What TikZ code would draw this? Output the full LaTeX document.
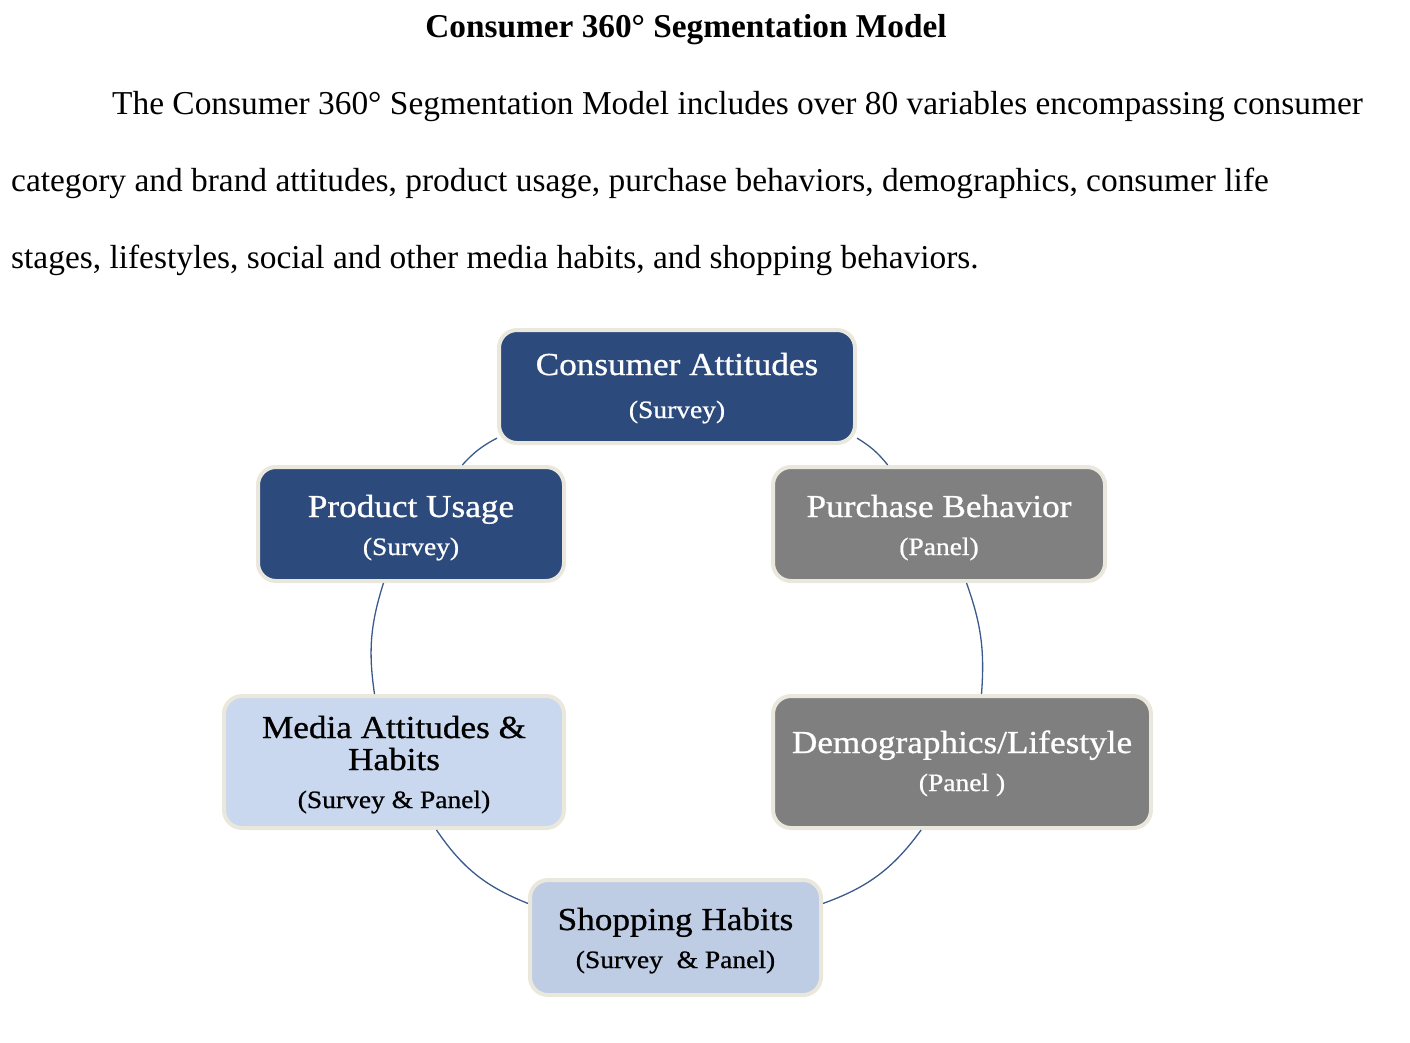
\documentclass[tikz,border=0pt]{standalone}
\usepackage{fontspec}
\setmainfont{Liberation Serif}
\newfontfamily\boxfont[FakeStretch=1.1,FakeBold=0.8]{Liberation Serif}
\definecolor{navy}{HTML}{2C4A7C}
\definecolor{greyA}{HTML}{808080}
\definecolor{greyB}{HTML}{7F7F7F}
\definecolor{lightA}{HTML}{C9D8EE}
\definecolor{lightB}{HTML}{BECCE4}
\definecolor{boxline}{HTML}{EAE7DC}
\definecolor{linkc}{HTML}{3B5A8C}
\begin{document}
\begin{tikzpicture}[x=1pt,y=1pt,
  box/.style={draw=boxline, line width=4pt, rounded corners=18pt, inner sep=0pt},
  maintxt/.style={font=\boxfont\fontsize{32}{38}\selectfont, anchor=base, inner sep=0pt},
  subtxt/.style={font=\boxfont\fontsize{25}{30}\selectfont, anchor=base, inner sep=0pt},
  body/.style={font=\fontsize{33.4}{40}\selectfont, anchor=base west, inner sep=0pt},
  link/.style={draw=linkc, line width=1.3pt}]
\useasboundingbox (0,0) rectangle (1410,-1042);

% heading and paragraph
\node[font=\bfseries\fontsize{33.3}{40}\selectfont, anchor=base, inner sep=0pt] (title) at (686,-37) {Consumer 360° Segmentation Model};
\node[body] (l1) at (112,-114) {The Consumer 360° Segmentation Model includes over 80 variables encompassing consumer};
\node[body] (l2) at (11,-191) {category and brand attitudes, product usage, purchase behaviors, demographics, consumer life};
\node[body] (l3) at (11,-268) {stages, lifestyles, social and other media habits, and shopping behaviors.};

% boxes
\node[box, fill=navy, minimum width=356pt, minimum height=113pt] (ca) at (677,-386.5) {};
\node[maintxt, text=white] (ca-m) at (677,-375) {Consumer Attitudes};
\node[subtxt, text=white] (ca-s) at (677,-418) {(Survey)};

\node[box, fill=navy, minimum width=306pt, minimum height=114pt] (pu) at (411,-524) {};
\node[maintxt, text=white] (pu-m) at (411,-517) {Product Usage};
\node[subtxt, text=white] (pu-s) at (411,-555) {(Survey)};

\node[box, fill=greyA, minimum width=332pt, minimum height=114pt] (pb) at (939,-524) {};
\node[maintxt, text=white] (pb-m) at (939,-517) {Purchase Behavior};
\node[subtxt, text=white] (pb-s) at (939,-555) {(Panel)};

\node[box, fill=lightA, minimum width=340pt, minimum height=132pt] (ma) at (394,-762) {};
\node[maintxt, text=black] (ma-m1) at (394,-738) {Media Attitudes \&};
\node[maintxt, text=black] (ma-m2) at (394,-770) {Habits};
\node[subtxt, text=black] (ma-s) at (394,-808) {(Survey \& Panel)};

\node[box, fill=greyB, minimum width=378pt, minimum height=132pt] (dl) at (962,-762) {};
\node[maintxt, text=white] (dl-m) at (962,-753) {Demographics/Lifestyle};
\node[subtxt, text=white] (dl-s) at (962,-791) {(Panel )};

\node[box, fill=lightB, minimum width=291pt, minimum height=115pt] (sh) at (675.5,-937.5) {};
\node[maintxt, text=black] (sh-m) at (675.5,-930) {Shopping Habits};
\node[subtxt, text=black] (sh-s) at (675.5,-968) {(Survey~ \& Panel)};

% connectors
\draw[link] (ca.196) to[bend right=10] (pu.49);
\draw[link] (ca.344) to[bend left=10] (pb.131);
\draw[link] (pu.245) to[bend right=13] (ma.106);
\draw[link] (pb.295) to[bend left=12] (dl.74);
\draw[link] (ma.302) to[bend right=17] (sh.167);
\draw[link] (dl.239) to[bend left=17] (sh.13);
\end{tikzpicture}
\end{document}
